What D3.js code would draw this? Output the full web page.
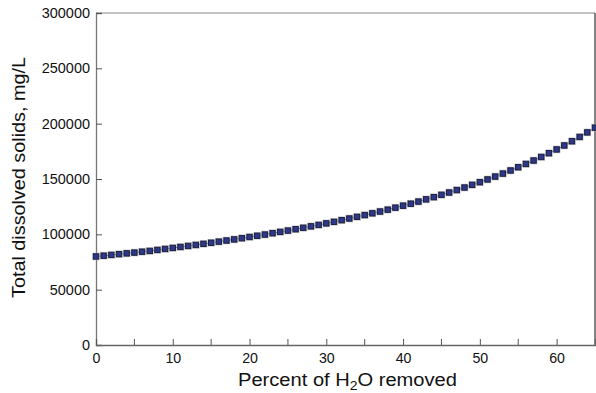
<!DOCTYPE html>
<html><head><meta charset="utf-8">
<script src="https://cdn.jsdelivr.net/npm/d3@7"></script>
<style>body{margin:0;background:#fff}svg{display:block}text{font-family:"Liberation Sans",Arial,Helvetica,sans-serif;fill:#111}</style>
</head><body>
<script>
const percentRemoved = d3.range(0, 66);
const tds = [80000,80700,81400,82100,82800,83500,84300,85000,85900,86800,
87700,88600,89500,90400,91400,92400,93400,94400,95400,96500,
97600,98700,99800,101000,102200,103400,104600,105900,107200,108500,
109900,111300,112800,114300,115800,117400,119000,120600,122300,124100,
125900,127700,129600,131600,133600,135700,137800,140000,142300,144700,
147100,149600,152200,154900,157700,160600,163600,166700,169900,173300,
176700,180300,184100,188000,192100,196400];
const xTicks = [0,10,20,30,40,50,60];
const xMinorTicks = [5,15,25,35,45,55];
const yTicks = [0,50000,100000,150000,200000,250000,300000];
const xLabel = "Percent of H";
const yLabel = "Total dissolved solids, mg/L";

const W = 596, H = 393;
const m = {l:96, r:1, t:13, b:48};
const svg = d3.select("body").append("svg").attr("width", W).attr("height", H);
const x = d3.scaleLinear().domain([0,65]).range([m.l, W - m.r]);
const y = d3.scaleLinear().domain([0,300000]).range([H - m.b, m.t]);

// frame
svg.append("line").attr("x1",x(0)).attr("x2",x(65)).attr("y1",y(300000)).attr("y2",y(300000)).attr("stroke","#888").attr("stroke-width",1.2);
svg.append("line").attr("x1",x(65)).attr("x2",x(65)).attr("y1",y(300000)).attr("y2",y(0)).attr("stroke","#333").attr("stroke-width",1.2);

// y axis
const gy = svg.append("g").attr("transform",`translate(${x(0)},0)`)
  .call(d3.axisLeft(y).tickValues(yTicks).tickSize(-6).tickPadding(6).tickFormat(d3.format("d")));
gy.select(".domain").attr("stroke","#777").attr("stroke-width",1.3);
gy.selectAll(".tick line").attr("stroke","#555");
gy.selectAll(".tick text").attr("font-size","14px").attr("fill","#111")
  .each(function(d){ const n = String(d).length; d3.select(this).attr("textLength", n*8.05).attr("lengthAdjust","spacingAndGlyphs"); });

// x axis
const gx = svg.append("g").attr("transform",`translate(0,${y(0)})`)
  .call(d3.axisBottom(x).tickValues(xTicks).tickSize(-6).tickPadding(8).tickFormat(d3.format("d")));
gx.select(".domain").attr("stroke","#666").attr("stroke-width",1.3);
gx.selectAll(".tick line").attr("stroke","#555");
gx.selectAll(".tick text").attr("font-size","14px").attr("fill","#111")
  .each(function(d){ const n = String(d).length; d3.select(this).attr("textLength", n*7.9).attr("lengthAdjust","spacingAndGlyphs"); });
svg.append("g").selectAll("line").data(xMinorTicks).join("line")
  .attr("x1",d=>x(d)).attr("x2",d=>x(d)).attr("y1",y(0)).attr("y2",y(0)-6).attr("stroke","#555");

// titles
const xt = svg.append("text").attr("x",347.5).attr("y",385.5).attr("text-anchor","middle").attr("font-size","18px")
  .attr("textLength",219).attr("lengthAdjust","spacingAndGlyphs");
xt.append("tspan").text(xLabel);
xt.append("tspan").attr("font-size","12.5px").attr("dy",4).text("2");
xt.append("tspan").attr("dy",-4).text("O removed");

svg.append("text").attr("transform","translate(25,177.5) rotate(-90)").attr("text-anchor","middle").attr("font-size","18px")
  .attr("textLength",241).attr("lengthAdjust","spacingAndGlyphs").text(yLabel);

// data
const data = percentRemoved.map((p,i)=>({p, v:tds[i]}));
svg.append("path").datum(data).attr("fill","none").attr("stroke","#111").attr("stroke-width",1)
  .attr("d", d3.line().x(d=>x(d.p)).y(d=>y(d.v)));
const mk = svg.append("g").selectAll("g").data(data).join("g").attr("transform",d=>`translate(${x(d.p)},${y(d.v)})`);
mk.append("rect").attr("x",-3.8).attr("y",-3.8).attr("width",7.6).attr("height",7.6).attr("fill","#bbb").attr("opacity",0.8);
mk.append("rect").attr("x",-2.7).attr("y",-2.7).attr("width",5.4).attr("height",5.4).attr("fill","#2d3889").attr("stroke","#15183a").attr("stroke-width",0.9);
</script>
</body></html>
